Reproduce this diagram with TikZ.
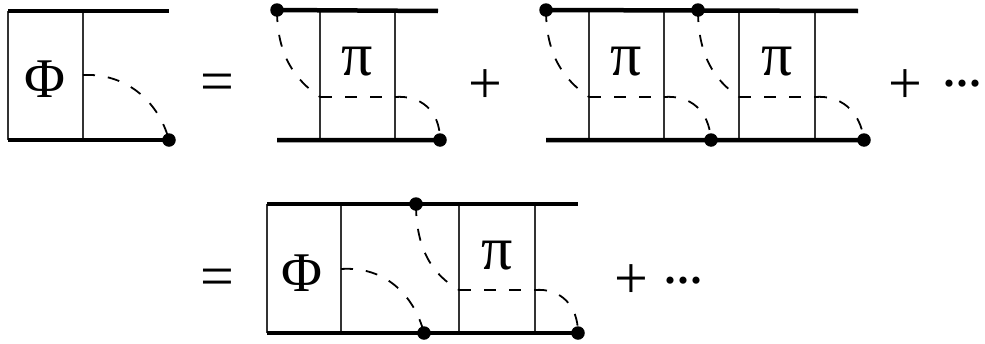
\documentclass[tikz,border=0pt]{standalone}
\usepackage{fontspec}
\setmainfont{Liberation Serif}
\newcommand{\threedots}{·\kern-7pt·\kern-7pt·}
\tikzset{
  thickline/.style={line width=4.5pt},
  thinline/.style={line width=1.3pt,draw=black!80},
  dashline/.style={line width=1.8pt,dash pattern=on 12pt off 13pt},
  vertex/.style={circle,fill=black,inner sep=0pt,minimum size=13.5pt},
  sym/.style={inner sep=0pt,font=\fontsize{56}{56}\selectfont},
  op/.style={inner sep=0pt,font=\fontsize{60}{60}\selectfont},
  pisym/.style={inner sep=0pt,font=\fontsize{62}{62}\selectfont},
}
\begin{document}
\begin{tikzpicture}[x=1pt,y=-1pt]
\useasboundingbox (0,0) rectangle (985,343);
% Row 1, first term
\coordinate (a1) at (8,11); \coordinate (a2) at (169,11);
\coordinate (a3) at (8,140);
\coordinate (a4) at (83,11); \coordinate (a5) at (83,140); \coordinate (a6) at (83,75);
\node[vertex] (av) at (169,140) {};
\draw[thinline] (a1) -- (a3) (a4) -- (a5);
\draw[thickline] (a1) -- (a2) (a3) -- (av.center);
\draw[dashline] (a6) .. controls (125,73) and (158,100) .. (av.center);
\node[sym] (phi1) at (45,79) {Φ};
\node[op] (eq1) at (217,88) {=};
% Row 1, second term
\coordinate (b2) at (438,11); \coordinate (b3) at (277,140);
\coordinate (b4) at (320,11); \coordinate (b5) at (320,140);
\coordinate (b6) at (395,11); \coordinate (b7) at (395,140);
\coordinate (b8) at (320,97); \coordinate (b9) at (395,97);
\node[vertex] (bu) at (277,10) {};
\node[vertex] (bv) at (440,140) {};
\draw[thinline] (b4) -- (b5) (b6) -- (b7);
\draw[thickline] (bu.center) -- (b2) (b3) -- (bv.center);
\draw[dashline] (bu.center) .. controls (277,55) and (295,80) .. (b8);
\draw[dashline] (b8) -- (b9);
\draw[dashline] (b9) .. controls (420,95) and (440,110) .. (bv.center);
\node[pisym] (pi1) at (357,62) {π};
\node[op] (plus1) at (485,87) {+};
% Row 1, third term
\coordinate (c2) at (858,11); \coordinate (c3) at (546,140);
\foreach \n/\x in {4/589,5/664,6/739,7/815}{
  \coordinate (ct\n) at (\x,11); \coordinate (cb\n) at (\x,140);
  \draw[thinline] (ct\n) -- (cb\n);
}
\coordinate (c8) at (589,97); \coordinate (c9) at (664,97);
\coordinate (c10) at (739,97); \coordinate (c11) at (815,97);
\node[vertex] (cu1) at (546,10) {};
\node[vertex] (cu2) at (698,10) {};
\node[vertex] (cv1) at (711,140) {};
\node[vertex] (cv2) at (864,140) {};
\draw[thickline] (cu1.center) -- (c2) (c3) -- (cv2.center);
\draw[dashline] (cu1.center) .. controls (546,55) and (564,80) .. (c8);
\draw[dashline] (c8) -- (c9);
\draw[dashline] (c9) .. controls (690,95) and (709,110) .. (cv1.center);
\draw[dashline] (cu2.center) .. controls (698,55) and (714,80) .. (c10);
\draw[dashline] (c10) -- (c11);
\draw[dashline] (c11) .. controls (840,95) and (860,110) .. (cv2.center);
\node[pisym] (pi2) at (626,62) {π};
\node[pisym] (pi3) at (777,62) {π};
\node[op] (plus2) at (905,87) {+};
\node[op] (dots1) at (962,92) {\threedots};
% Row 2
\node[op] (eq2) at (217,283) {=};
\coordinate (d1) at (267,204); \coordinate (d2) at (578,204);
\coordinate (d3) at (267,333);
\foreach \n/\x in {4/341,5/459,6/535}{
  \coordinate (dt\n) at (\x,204); \coordinate (db\n) at (\x,333);
  \draw[thinline] (dt\n) -- (db\n);
}
\coordinate (d7) at (341,269); \coordinate (d8) at (459,290); \coordinate (d9) at (535,290);
\node[vertex] (du) at (416,204) {};
\node[vertex] (dv1) at (424,333) {};
\node[vertex] (dv2) at (578,333) {};
\draw[thinline] (d1) -- (d3);
\draw[thickline] (d1) -- (d2) (d3) -- (dv2.center);
\draw[dashline] (d7) .. controls (385,266) and (414,295) .. (dv1.center);
\draw[dashline] (du.center) .. controls (416,250) and (433,275) .. (d8);
\draw[dashline] (d8) -- (d9);
\draw[dashline] (d9) .. controls (560,288) and (578,305) .. (dv2.center);
\node[sym] (phi2) at (302,273) {Φ};
\node[pisym] (pi4) at (497,256) {π};
\node[op] (plus3) at (631,282) {+};
\node[op] (dots2) at (683,289) {\threedots};
\end{tikzpicture}
\end{document}
